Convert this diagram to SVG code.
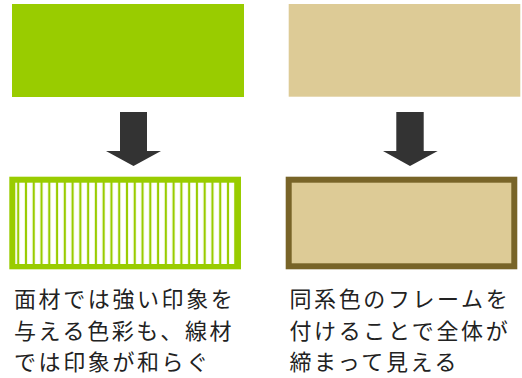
<svg xmlns="http://www.w3.org/2000/svg" width="522" height="378" viewBox="0 0 522 378">
<defs>
<style>
.green{fill:#99cc00}
.beige{fill:#ddcb96}
.arrow{fill:#333333}
.label{font-family:"Noto Sans CJK JP","Noto Sans",sans-serif;font-size:22px;fill:#222222;letter-spacing:2.6px}
</style>
<pattern id="stripes" patternUnits="userSpaceOnUse" x="15.3" y="0" width="7.77" height="10">
<rect x="0" y="0" width="7.77" height="10" fill="#ffffff"/>
<rect x="1.8" y="0" width="2.2" height="10" fill="#99cc00"/>
</pattern>
</defs>
<rect width="522" height="378" fill="#ffffff"/>
<g id="green-solid">
<rect class="green" x="12" y="4" width="232" height="93"/>
</g>
<g id="beige-solid">
<rect class="beige" x="288.7" y="4" width="231.6" height="92.7"/>
</g>
<g id="connectors">
<path class="arrow" d="M120 112 H147 V151 H161 L133.5 166 L106 151 H120 Z"/>
<path class="arrow" d="M396.3 112 H423.7 V151 H437.7 L410 166 L383 151 H396.3 Z"/>
</g>
<g id="green-stripes">
<rect class="green" x="9.3" y="176.7" width="231.7" height="92.6"/>
<rect x="15.3" y="182.7" width="219" height="81.3" fill="url(#stripes)"/>
</g>
<g id="beige-framed">
<rect x="288.7" y="179.7" width="225.6" height="86.6" fill="#ddcb96" stroke="#786428" stroke-width="6"/>
</g>
<g id="text-left">
<text class="label" x="14" y="307">面材では強い印象を</text>
<text class="label" x="14" y="339">与える色彩も、線材</text>
<text class="label" x="14" y="370">では印象が和らぐ</text>
</g>
<g id="text-right">
<text class="label" x="289.5" y="307">同系色のフレームを</text>
<text class="label" x="289.5" y="339">付けることで全体が</text>
<text class="label" x="289.5" y="370">締まって見える</text>
</g>
</svg>
